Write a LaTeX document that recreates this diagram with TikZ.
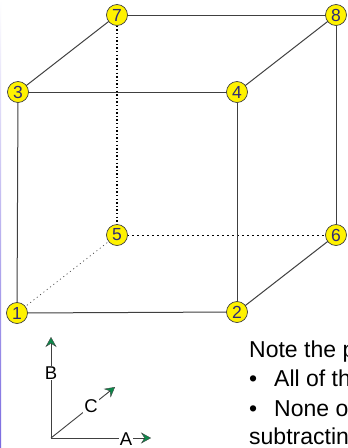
\documentclass[tikz,border=0pt]{standalone}
\usepackage{fontspec}
\setmainfont{Liberation Sans}
\usetikzlibrary{arrows.meta}
\definecolor{edgegray}{HTML}{404040}
\definecolor{numblue}{HTML}{2E2A78}
\definecolor{tipgreen}{HTML}{0B8A4A}
\definecolor{stripe}{HTML}{7A6AE0}
\tikzset{
  x=1pt,y=-1pt,
  vertex/.style={circle,draw=edgegray,line width=0.7pt,fill=yellow,text=numblue,inner sep=0pt,minimum size=21pt,font=\fontsize{17.5}{17.5}\selectfont},
  edge/.style={draw=edgegray,line width=1pt},
  hiddenA/.style={draw=black,line width=1.2pt,dash pattern=on 1.3pt off 2.3pt},
  hiddenB/.style={draw=black,line width=0.7pt,dash pattern=on 2pt off 3pt},
  hiddenC/.style={draw=edgegray,line width=0.7pt,dash pattern=on 1pt off 3.2pt},
  axis/.style={draw=edgegray,line width=0.9pt,-{Stealth[length=10pt,width=11pt,inset=3.5pt,fill=tipgreen,line width=0.4pt]}},
  axlabel/.style={inner sep=1pt,fill=white,text=black,font=\fontsize{18.5}{18.5}\selectfont},
  note/.style={anchor=base west,inner sep=0pt,text=black,font=\fontsize{23}{23}\selectfont}
}
\begin{document}
\begin{tikzpicture}
\useasboundingbox (0,0) rectangle (348,448);
\clip (0,0) rectangle (348,448);
\fill[white] (0,0) rectangle (348,448);
\shade[top color=white,bottom color=stripe] (0,0) rectangle (1.2,448);
\coordinate (c7) at (117,15);
\coordinate (c8) at (336,15);
\coordinate (c3) at (18,92);
\coordinate (c4) at (237,92);
\coordinate (c5) at (117,235);
\coordinate (c6) at (336,235);
\coordinate (c1) at (17,313);
\coordinate (c2) at (237,312);
\draw[hiddenA] (c7)--(c5);
\draw[hiddenB] (c5)--(c6);
\draw[hiddenC] (c1)--(c5);
\draw[edge] (c7)--(c8);
\draw[edge] (c3)--(c4);
\draw[edge] (c1)--(c2);
\draw[edge] (c3)--(c1);
\draw[edge] (c4)--(c2);
\draw[edge] (c8)--(c6);
\draw[edge] (c3)--(c7);
\draw[edge] (c4)--(c8);
\draw[edge] (c2)--(c6);
\node[vertex] (v7) at (c7) {7};
\node[vertex] (v8) at (c8) {8};
\node[vertex] (v3) at (c3) {3};
\node[vertex] (v4) at (c4) {4};
\node[vertex] (v5) at (c5) {5};
\node[vertex] (v6) at (c6) {6};
\node[vertex] (v1) at (c1) {1};
\node[vertex] (v2) at (c2) {2};
\coordinate (o) at (51,438);
\coordinate (ta) at (151,438);
\coordinate (tb) at (51,337);
\coordinate (tc) at (115,387);
\draw[axis] (o)--(tb);
\draw[axis] (o)--(ta);
\draw[axis] (o)--(tc);
\node[axlabel] (lb) at (51,373) {B};
\node[axlabel] (lc) at (91,406) {C};
\node[axlabel,anchor=base] (la) at (126,445) {A};
\node[note] (n1) at (249,357) {Note the p};
\node[note] (n2) at (249,386) {•};
\node[note] (n2t) at (274,386) {All of th};
\node[note] (n3) at (249,416) {•};
\node[note] (n3t) at (274,416) {None o};
\node[note] (n4) at (249,444) {subtractin};
\end{tikzpicture}
\end{document}
